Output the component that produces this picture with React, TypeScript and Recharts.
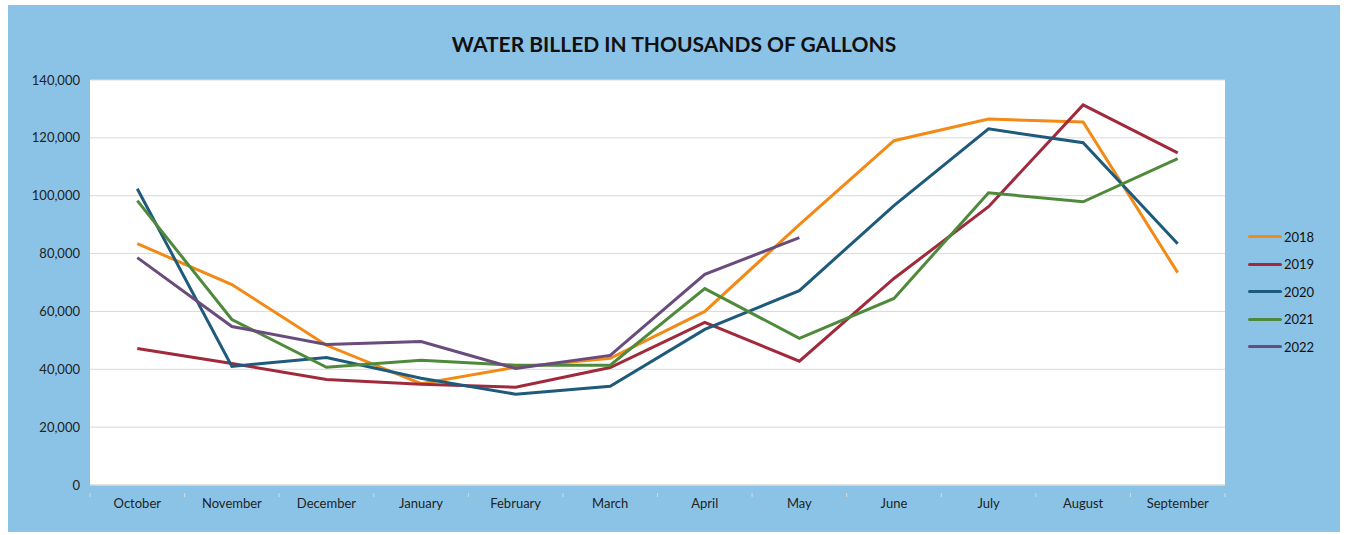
import React from "react";
import { LineChart, Line, XAxis, YAxis, CartesianGrid } from "recharts";

const months = [
  "October", "November", "December", "January", "February", "March",
  "April", "May", "June", "July", "August", "September",
];

const y2018 = [83400, 69300, 48300, 35000, 40700, 43800, 60000, 90000, 119000, 126500, 125500, 73400];
const y2019 = [47200, 42000, 36500, 34800, 33800, 40600, 56200, 42800, 71400, 96200, 131400, 114800];
const y2020 = [102400, 41000, 44100, 36900, 31400, 34100, 53800, 67200, 96600, 123100, 118300, 83400];
const y2021 = [98300, 57200, 40700, 43100, 41400, 41400, 67900, 50700, 64500, 101000, 97900, 112800];
const y2022 = [78600, 54800, 48600, 49600, 40300, 44800, 72800, 85500, null, null, null, null];

const yTicks = [0, 20000, 40000, 60000, 80000, 100000, 120000, 140000];

const series = [
  { key: "2018", color: "#F38A16" },
  { key: "2019", color: "#A02A3C" },
  { key: "2020", color: "#1E5A7B" },
  { key: "2021", color: "#4F8A3C" },
  { key: "2022", color: "#694B7C" },
];

const data = months.map((m, i) => ({
  month: m,
  "2018": y2018[i],
  "2019": y2019[i],
  "2020": y2020[i],
  "2021": y2021[i],
  "2022": y2022[i],
}));

const W = 1332;
const H = 527;
const FONT = "Lato, 'Open Sans', sans-serif";
const band = (1217 - 82) / 12;

function MonthTick(props: any) {
  const { x, y, payload, index } = props;
  return (
    <g>
      <line x1={x - band / 2} x2={x - band / 2} y1={y} y2={y + 4} stroke="#D9D9D9" />
      {index === months.length - 1 && (
        <line x1={x + band / 2} x2={x + band / 2} y1={y} y2={y + 4} stroke="#D9D9D9" />
      )}
      <text x={x} y={y + 15} textAnchor="middle" fontSize={13} fill="#222" fontFamily={FONT}>
        {payload.value}
      </text>
    </g>
  );
}

function LegendBox() {
  return (
    <div style={{ position: "absolute", left: 1240, top: 218, fontFamily: FONT, fontSize: 13, color: "#111" }}>
      {series.map((s) => (
        <div key={s.key} style={{ display: "flex", alignItems: "center", height: 27.5 }}>
          <div style={{ width: 34, height: 3, background: s.color, borderRadius: 2, marginRight: 2 }} />
          <span>{s.key}</span>
        </div>
      ))}
    </div>
  );
}

export default function App() {
  return (
    <div
      style={{
        position: "absolute",
        left: 8,
        top: 5,
        width: W,
        height: H,
        background: "#8BC3E6",
      }}
    >
      <div
        style={{
          position: "absolute",
          left: 0,
          width: W,
          top: 26,
          textAlign: "center",
          fontFamily: FONT,
          fontWeight: 700,
          fontSize: 21,
          color: "#111",
        }}
      >
        WATER BILLED IN THOUSANDS OF GALLONS
      </div>
      <LineChart width={W} height={H} data={data} margin={{ top: 75, right: 115, bottom: 0, left: 0 }}>
        <CartesianGrid vertical={false} stroke="#D9D9D9" fill="#FFFFFF" />
        <XAxis
          dataKey="month"
          stroke="#D9D9D9"
          tickLine={false}
          tick={<MonthTick />}
          interval={0}
          height={47}
          padding={{ left: band / 2, right: band / 2 }}
        />
        <YAxis
          width={82}
          domain={[0, 140000]}
          ticks={yTicks}
          axisLine={false}
          tickLine={false}
          tickMargin={4}
          tick={{ fontSize: 13, fill: "#222", fontFamily: FONT }}
          tickFormatter={(v: number) => v.toLocaleString("en-US")}
        />
        {series.map((s) => (
          <Line
            key={s.key}
            type="linear"
            dataKey={s.key}
            stroke={s.color}
            strokeWidth={3}
            dot={false}
            isAnimationActive={false}
          />
        ))}
      </LineChart>
      <LegendBox />
    </div>
  );
}
